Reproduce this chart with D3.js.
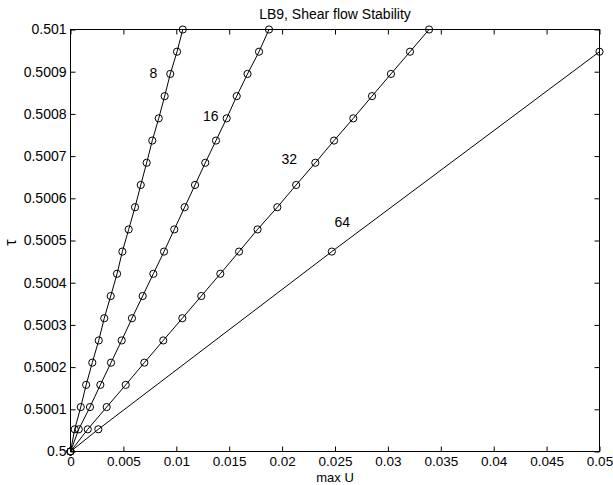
<!DOCTYPE html>
<html>
<head>
<meta charset="utf-8">
<script src="https://cdn.jsdelivr.net/npm/d3@7"></script>
<style>
  body { margin: 0; background: #fff; }
  text { font-family: "Liberation Sans", Arial, Helvetica, sans-serif; fill: #000; }
</style>
</head>
<body>
<svg id="chart" width="613" height="485"></svg>
<script>
// Relaxation time levels (tau) at which max U was recorded, starting at the origin
const tau = [0.5, 0.5000526, 0.5001053, 0.5001579, 0.5002105, 0.5002632, 0.5003158,
  0.5003684, 0.5004211, 0.5004737, 0.5005263, 0.5005789, 0.5006316, 0.5006842,
  0.5007368, 0.5007895, 0.5008421, 0.5008947, 0.5009474, 0.501];

// Maximum velocity for each grid resolution
const maxU8  = [0, 0.00040, 0.00097, 0.00148, 0.00206, 0.00267, 0.00319, 0.00380, 0.00440,
  0.00490, 0.00550, 0.00610, 0.00664, 0.00720, 0.00773, 0.00834, 0.00890, 0.00943, 0.01007, 0.01061];
const maxU16 = [0, 0.00078, 0.00184, 0.00282, 0.00383, 0.00484, 0.00581, 0.00682, 0.00783,
  0.00884, 0.00981, 0.01079, 0.01177, 0.01274, 0.01375, 0.01476, 0.01571, 0.01673, 0.01782, 0.01876];
const maxU32 = [0, 0.00163, 0.00342, 0.00522, 0.00698, 0.00877, 0.01057, 0.01236, 0.01416,
  0.01593, 0.01768, 0.01955, 0.02133, 0.02314, 0.02491, 0.02673, 0.02850, 0.03029, 0.03209, 0.03389];
const tau64  = [0.5, 0.5000526, 0.5004737, 0.5009474];
const maxU64 = [0, 0.00263, 0.02470, 0.05];

// Curve labels (grid size) placed in data coordinates
const curveLabels = ["8", "16", "32", "64"];
const curveLabelU   = [0.00783, 0.01325, 0.02068, 0.02569];
const curveLabelTau = [0.5008976, 0.500795, 0.500693, 0.5005446];

// Axis ticks
const xTicks = [0, 0.005, 0.01, 0.015, 0.02, 0.025, 0.03, 0.035, 0.04, 0.045, 0.05];
const xTickLabels = ["0", "0.005", "0.01", "0.015", "0.02", "0.025", "0.03", "0.035", "0.04", "0.045", "0.05"];
const yTicks = [0.5, 0.5001, 0.5002, 0.5003, 0.5004, 0.5005, 0.5006, 0.5007, 0.5008, 0.5009, 0.501];
const yTickLabels = ["0.5", "0.5001", "0.5002", "0.5003", "0.5004", "0.5005", "0.5006", "0.5007", "0.5008", "0.5009", "0.501"];

const series = [
  { name: "8",  u: maxU8,  t: tau },
  { name: "16", u: maxU16, t: tau },
  { name: "32", u: maxU32, t: tau },
  { name: "64", u: maxU64, t: tau64 }
];

(function draw() {
  const svg = d3.select("#chart");
  const pl = 70.5, pr = 599.5, pt = 29.5, pb = 451.5;

  const x = d3.scaleLinear().domain([0, 0.05]).range([pl, pr]);
  const y = d3.scaleLinear().domain([0.5, 0.501]).range([pb, pt]);

  const fontSize = "14px";
  const tick = 5;

  // Bottom axis with labels, inward ticks
  const gx = svg.append("g")
    .attr("transform", `translate(0,${pb})`)
    .call(d3.axisBottom(x).tickValues(xTicks).tickFormat((d, i) => xTickLabels[i])
      .tickSizeInner(-tick).tickSizeOuter(0).tickPadding(5));
  // Top axis: ticks only
  const gxt = svg.append("g")
    .attr("transform", `translate(0,${pt})`)
    .call(d3.axisTop(x).tickValues(xTicks).tickFormat("")
      .tickSizeInner(-tick).tickSizeOuter(0));
  // Left axis with labels
  const gy = svg.append("g")
    .attr("transform", `translate(${pl},0)`)
    .call(d3.axisLeft(y).tickValues(yTicks).tickFormat((d, i) => yTickLabels[i])
      .tickSizeInner(-tick).tickSizeOuter(0).tickPadding(4));
  // Right axis: ticks only
  const gyr = svg.append("g")
    .attr("transform", `translate(${pr},0)`)
    .call(d3.axisRight(y).tickValues(yTicks).tickFormat("")
      .tickSizeInner(-tick).tickSizeOuter(0));

  [gx, gxt, gy, gyr].forEach(g => {
    g.select(".domain").remove();
    g.selectAll("line").attr("stroke", "#000").attr("stroke-width", 1);
    g.selectAll("text").attr("font-size", fontSize)
      .attr("font-family", "Liberation Sans, Arial, sans-serif").attr("fill", "#000");
  });
  gx.selectAll("text").attr("font-size", "13.5px");

  // Plot frame
  svg.append("rect")
    .attr("x", pl).attr("y", pt)
    .attr("width", pr - pl).attr("height", pb - pt)
    .attr("fill", "none").attr("stroke", "#000").attr("stroke-width", 1);

  // Lines and circle markers
  const line = d3.line().x(d => x(d[0])).y(d => y(d[1]));
  series.forEach(s => {
    const pts = s.u.map((u, i) => [u, s.t[i]]);
    svg.append("path").datum(pts)
      .attr("d", line).attr("fill", "none").attr("stroke", "#000").attr("stroke-width", 1);
    svg.append("g").selectAll("circle").data(pts).join("circle")
      .attr("cx", d => x(d[0])).attr("cy", d => y(d[1])).attr("r", 3.6)
      .attr("fill", "none").attr("stroke", "#000").attr("stroke-width", 1);
  });

  // Curve labels
  svg.append("g").selectAll("text").data(curveLabels).join("text")
    .attr("x", (d, i) => x(curveLabelU[i]))
    .attr("y", (d, i) => y(curveLabelTau[i]))
    .attr("dy", "0.36em")
    .attr("text-anchor", "middle")
    .attr("font-size", fontSize)
    .text(d => d);

  // Title and axis labels
  svg.append("text")
    .attr("x", (pl + pr) / 2).attr("y", 14).attr("dy", "0.36em")
    .attr("text-anchor", "middle").attr("font-size", "14px")
    .text("LB9, Shear flow Stability");

  svg.append("text")
    .attr("x", (pl + pr) / 2).attr("y", 482).attr("text-anchor", "middle")
    .attr("font-size", "13px")
    .text("max U");

  svg.append("text")
    .attr("transform", `translate(10,${(pt + pb) / 2 + 2}) rotate(-90)`)
    .attr("dy", "0.36em")
    .attr("text-anchor", "middle").attr("font-size", "16px")
    .text("τ");
})();
</script>
</body>
</html>
